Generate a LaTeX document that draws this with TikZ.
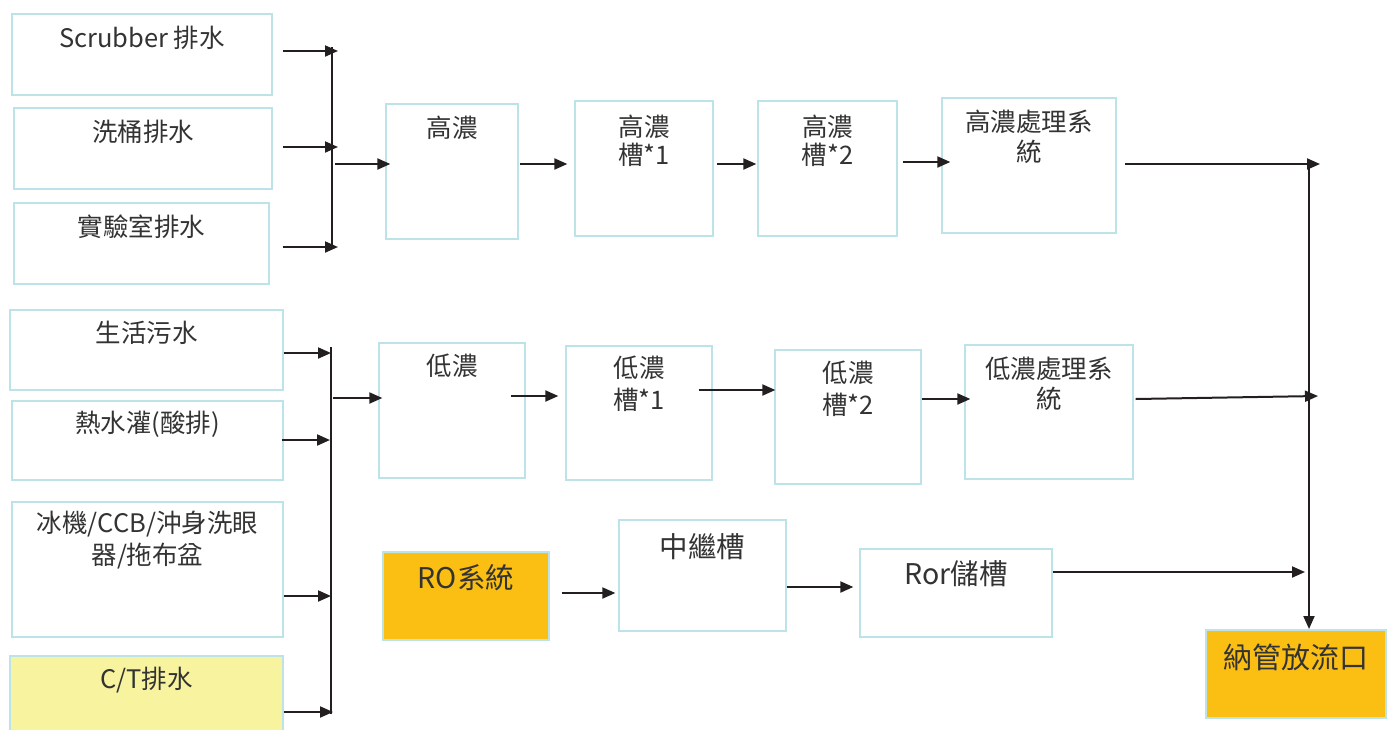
\documentclass[tikz,border=0pt]{standalone}
\usepackage{fontspec}
\setmainfont{Noto Sans CJK TC}
\usetikzlibrary{arrows.meta,fit}

\definecolor{boxline}{HTML}{BCE3E8}
\definecolor{ink}{HTML}{231F20}
\definecolor{txt}{HTML}{333333}
\definecolor{amber}{HTML}{FBBE12}
\definecolor{paleyellow}{HTML}{F7F39E}

\tikzset{
  box/.style={draw=boxline, line width=1.3pt, inner sep=0pt, fill=white},
  lbl/.style={font=\fontsize{25.5}{30}\selectfont, text=txt, align=center, inner sep=0pt},
  biglbl/.style={font=\fontsize{28.5}{32}\selectfont, text=txt, align=center, inner sep=0pt},
  flow/.style={draw=ink, line width=2pt, -{Triangle[length=13pt,width=11pt]}},
  bus/.style={draw=ink, line width=2pt},
}

\begin{document}
\begin{tikzpicture}[x=1pt, y=-1pt]
\useasboundingbox (0,0) rectangle (1392,729);

% ---------- high-concentration sources ----------
\node[box, fit={(12,14) (272,95)}] (scrub) {};
\node[box, fit={(14,108) (272,189)}] (bucket) {};
\node[box, fit={(14,203) (269,284)}] (lab) {};
\node[lbl] (scrub-t)  at (scrub.north  |- 0,38)  {Scrubber 排水};
\node[lbl] (bucket-t) at (bucket.north |- 0,132) {洗桶排水};
\node[lbl] (lab-t)    at (lab.north    |- 0,227) {實驗室排水};

% ---------- low-concentration sources ----------
\node[box, fit={(10,310) (283,390)}] (life) {};
\node[box, fit={(12,401) (283,480)}] (hot) {};
\node[box, fit={(12,502) (283,637)}] (ice) {};
\node[box, fill=paleyellow, fit={(10,656) (283,740)}] (ct) {};
\node[lbl] (life-t) at (life.north |- 0,333) {生活污水};
\node[lbl] (hot-t)  at (hot.north  |- 0,424) {熱水灌(酸排)};
\node[lbl, font=\fontsize{25.5}{32}\selectfont] (ice-t) at (ice.north |- 0,540) {冰機/CCB/沖身洗眼\\器/拖布盆};
\node[lbl] (ct-t)   at (ct.north   |- 0,680) {C/T排水};

% ---------- high-concentration line ----------
\node[box, fit={(386,104) (518,239)}] (h0) {};
\node[box, fit={(575,101) (713,236)}] (h1) {};
\node[box, fit={(758,101) (897,236)}] (h2) {};
\node[box, fit={(942,98) (1116,233)}] (h3) {};
\node[lbl] (h0-t) at (h0.north |- 0,128) {高濃};
\node[lbl, font=\fontsize{25.5}{28}\selectfont] (h1-t) at (h1.north |- 0,141) {高濃\\槽*1};
\node[lbl, font=\fontsize{25.5}{28}\selectfont] (h2-t) at (h2.north |- 0,141) {高濃\\槽*2};
\node[lbl] (h3-t) at (h3.north |- 0,137) {高濃處理系\\統};

% ---------- low-concentration line ----------
\node[box, fit={(379,343) (525,478)}] (l0) {};
\node[box, fit={(566,346) (712,480)}] (l1) {};
\node[box, fit={(775,350) (921,484)}] (l2) {};
\node[box, fit={(965,345) (1133,479)}] (l3) {};
\node[lbl] (l0-t) at (l0.north |- 0,366) {低濃};
\node[lbl, font=\fontsize{25.5}{32}\selectfont] (l1-t) at (l1.north |- 0,384) {低濃\\槽*1};
\node[lbl, font=\fontsize{25.5}{32}\selectfont] (l2-t) at (l2.north |- 0,389) {低濃\\槽*2};
\node[lbl] (l3-t) at (l3.north |- 0,384) {低濃處理系\\統};

% ---------- RO recovery line ----------
\node[box, fill=amber, fit={(383,552) (549,640)}] (ro) {};
\node[box, fit={(619,520) (786,631)}] (relay) {};
\node[box, fit={(860,549) (1052,637)}] (ror) {};
\node[biglbl] (ro-t)    at (ro.north    |- 0,578) {RO系統};
\node[biglbl] (relay-t) at (relay.north |- 0,547) {中繼槽};
\node[biglbl] (ror-t)   at (ror.north   |- 0,574) {Ror儲槽};

% ---------- discharge outlet ----------
\node[box, fill=amber, fit={(1206,630) (1386,718)}] (outlet) {};
\node[lbl, font=\fontsize{29}{32}\selectfont] (outlet-t) at (outlet.north |- 0,657) {納管放流口};

% ---------- collector buses ----------
\coordinate (hbus-top) at (332,47);
\coordinate (hbus-bot) at (332,248);
\coordinate (lbus-top) at (331,347);
\coordinate (lbus-bot) at (331,714);
\coordinate (obus-top) at (1309,164);
\coordinate (obus-end) at (1309,629);
\draw[bus] (hbus-top) -- (hbus-bot);
\draw[bus] (lbus-top) -- (lbus-bot);

% sources into the high bus
\draw[flow] ([xshift=10pt]scrub.east  |- 0,51)  -- (338,51);
\draw[flow] ([xshift=10pt]bucket.east |- 0,147) -- (338,147);
\draw[flow] ([xshift=13pt]lab.east    |- 0,247) -- (338,247);
\draw[flow] (335,164) -- ([xshift=5pt]h0.west |- 0,164);

% sources into the low bus
\draw[flow] (life.east |- 0,353) -- (lbus-top |- 0,353);
\draw[flow] ([xshift=-2pt]hot.east |- 0,440) -- ([xshift=-1pt]lbus-top |- 0,440);
\draw[flow] (ice.east |- 0,596) -- (lbus-top |- 0,596);
\draw[flow] (ct.east  |- 0,712) -- ([xshift=2pt]lbus-top |- 0,712);
\draw[flow] ([xshift=2pt]lbus-top |- 0,398) -- ([xshift=4pt]l0.west |- 0,398);

% high line
\draw[flow] ([xshift=1pt]h0.east |- 0,164) -- ([xshift=-7pt]h1.west |- 0,164);
\draw[flow] ([xshift=3pt]h1.east |- 0,164) -- ([xshift=-1pt]h2.west |- 0,164);
\draw[flow] ([xshift=5pt]h2.east |- 0,162) -- ([xshift=9pt]h3.west |- 0,162);
\draw[flow] ([xshift=8pt]h3.east |- 0,164) -- (1320,164);
\draw[flow] (obus-top) -- (obus-end);

% low line
\draw[flow] ([xshift=-15pt]l0.east |- 0,396) -- ([xshift=-7pt]l1.west |- 0,396);
\draw[flow] ([xshift=-14pt]l1.east |- 0,390) -- ([xshift=1pt]l2.west |- 0,390);
\draw[flow] (l2.east |- 0,399) -- ([xshift=6pt]l3.west |- 0,399);
\draw[flow] ([xshift=2pt]l3.east |- 0,399) -- (1318,396);

% RO line
\draw[flow] ([xshift=12pt]ro.east |- 0,593) -- ([xshift=-3pt]relay.west |- 0,593);
\draw[flow] (relay.east |- 0,587) -- ([xshift=-6pt]ror.west |- 0,587);
\draw[flow] (ror.east |- 0,572) -- (1305,572);
\end{tikzpicture}
\end{document}
